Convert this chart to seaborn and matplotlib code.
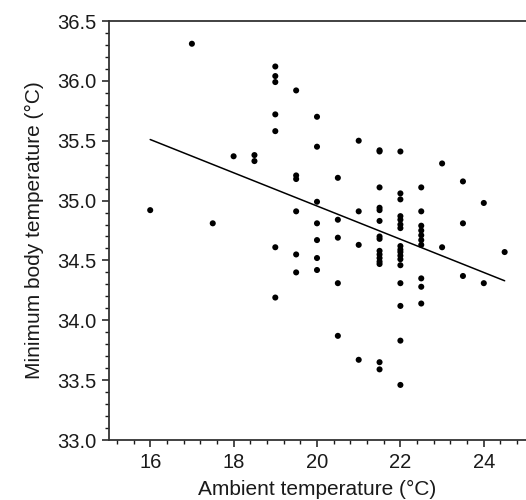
import matplotlib
matplotlib.use("Agg")
import matplotlib.pyplot as plt
import seaborn as sns
import numpy as np
import pandas as pd
from matplotlib.ticker import MultipleLocator

# ---- data ----
ambient = ([16.0, 17.0, 17.5, 18.0, 18.5, 18.5]
           + [19.0] * 7 + [19.5] * 6 + [20.0] * 7 + [20.5] * 5 + [21.0] * 4
           + [21.5] * 15 + [22.0] * 17 + [22.5] * 10 + [23.0] * 2
           + [23.5] * 3 + [24.0] * 2 + [24.5])
min_body = [34.92, 36.31, 34.81, 35.37, 35.38, 35.33,
            36.12, 36.04, 35.99, 35.72, 35.58, 34.61, 34.19,
            35.92, 35.21, 35.18, 34.91, 34.55, 34.40,
            35.70, 35.45, 34.99, 34.81, 34.67, 34.52, 34.42,
            35.19, 34.84, 34.69, 34.31, 33.87,
            35.50, 34.91, 34.63, 33.67,
            35.42, 35.41, 35.11, 34.94, 34.92, 34.83, 34.70, 34.68, 34.58,
            34.55, 34.52, 34.49, 34.47, 33.65, 33.59,
            35.41, 35.06, 35.01, 34.87, 34.84, 34.80, 34.77, 34.62, 34.59,
            34.57, 34.54, 34.51, 34.46, 34.31, 34.12, 33.83, 33.46,
            35.11, 34.91, 34.79, 34.75, 34.71, 34.67, 34.63, 34.35, 34.28, 34.14,
            35.31, 34.61,
            35.16, 34.81, 34.37,
            34.98, 34.31,
            34.57]
fit_x = [16.0, 24.5]
fit_y = [35.51, 34.33]

xticks = [16, 18, 20, 22, 24]
yticks = [33.0, 33.5, 34.0, 34.5, 35.0, 35.5, 36.0, 36.5]

sns.set_style("ticks")
plt.rcParams['font.family'] = ['Liberation Sans', 'DejaVu Sans']

df = pd.DataFrame({"x": ambient, "y": min_body})
fit = pd.DataFrame({"x": fit_x, "y": fit_y})

fig = plt.figure(figsize=(5.26, 5.0), dpi=100)
ax = fig.add_axes([108.5 / 526, 60 / 500, (525.5 - 108.5) / 526, (440 - 21) / 500])

sns.scatterplot(data=df, x="x", y="y", ax=ax, color="black", s=19,
                edgecolor="none", linewidth=0, zorder=3)
sns.lineplot(data=fit, x="x", y="y", ax=ax, color="black", linewidth=1.1,
             zorder=2)

ax.set_xlim(15.0, 25.0)
ax.set_ylim(33.0, 36.5)
ax.set_xticks(xticks)
ax.set_xticklabels([str(t) for t in xticks])
ax.set_yticks(yticks)
ax.set_yticklabels([f"{t:.1f}" for t in yticks])
ax.xaxis.set_minor_locator(MultipleLocator(0.4))
ax.yaxis.set_minor_locator(MultipleLocator(0.1))

ax.tick_params(axis="both", which="major", direction="out", length=5,
               width=1.1, labelsize=14.5, pad=4, colors="#1a1a1a")
ax.tick_params(axis="both", which="minor", direction="out", length=3,
               width=1.0, colors="#1a1a1a")

for side in ["left", "bottom", "top"]:
    ax.spines[side].set_color("#333333")
    ax.spines[side].set_linewidth(1.3)
ax.spines["right"].set_visible(False)

ax.set_xlabel("Ambient temperature (°C)", fontsize=15, color="#1a1a1a",
              labelpad=6)
ax.set_ylabel("Minimum body temperature (°C)", fontsize=15, color="#1a1a1a",
              labelpad=9)

fig.savefig("out.png", dpi=100)
